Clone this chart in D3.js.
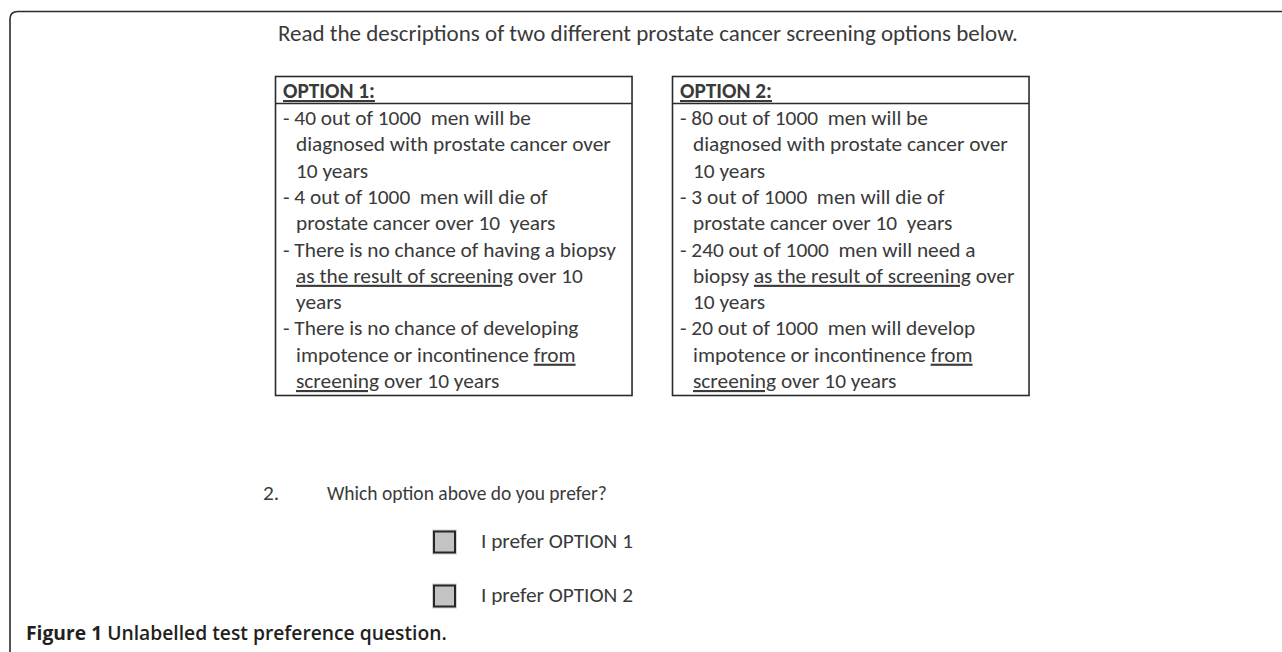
<!DOCTYPE html>
<html lang="en">
<head>
<meta charset="UTF-8">
<title>Unlabelled test preference question</title>
<script src="https://d3js.org/d3.v7.min.js"></script>
<style>
  body { margin: 0; background: #fff; }
  svg { display: block; }
  text { font-family: Carlito, Calibri, Lato, sans-serif; fill: #3a3a3a; white-space: pre; }
  .caption { font-family: "Open Sans", "Noto Sans", sans-serif; font-weight: 700; fill: #231f20; }
</style>
</head>
<body>
<div id="chart"></div>
<script>
// text content of the figure
var titleText = 'Read the descriptions of two different prostate cancer screening options below.';
var optionTitles = ['OPTION 1:', 'OPTION 2:'];
// _..._ marks underlined words; lines beginning with "- " are new bullets
var option1Lines = [
  '- 40 out of 1000  men will be',
  'diagnosed with prostate cancer over',
  '10 years',
  '- 4 out of 1000  men will die of',
  'prostate cancer over 10  years',
  '- There is no chance of having a biopsy',
  '_as the result of screening_ over 10',
  'years',
  '- There is no chance of developing',
  'impotence or incontinence _from_',
  '_screening_ over 10 years'
];
var option2Lines = [
  '- 80 out of 1000  men will be',
  'diagnosed with prostate cancer over',
  '10 years',
  '- 3 out of 1000  men will die of',
  'prostate cancer over 10  years',
  '- 240 out of 1000  men will need a',
  'biopsy _as the result of screening_ over',
  '10 years',
  '- 20 out of 1000  men will develop',
  'impotence or incontinence _from_',
  '_screening_ over 10 years'
];
var questionNumber = '2.';
var questionText = 'Which option above do you prefer?';
var choices = ['I prefer OPTION 1', 'I prefer OPTION 2'];
var captionLabel = 'Figure 1';
var captionText = ' Unlabelled test preference question.';

var width = 1282, height = 652;
var svg = d3.select('#chart').append('svg')
  .attr('width', width).attr('height', height);

/** outer frame: rounded top-left corner, open to the right and bottom */
svg.append('path')
  .attr('d', 'M10,652 V19 Q10,11.5 18,11.5 H1282')
  .attr('fill', 'none').attr('stroke', '#2b2b2b').attr('stroke-width', 1.6);

/** fit a text element to a target width by scaling its font size */
function fitFont(sel, targetWidth) {
  var base = 20;
  sel.style('font-size', base + 'px');
  var w = sel.node().getComputedTextLength();
  var size = base * targetWidth / w;
  sel.style('font-size', size + 'px');
  return size;
}

var title = svg.append('text')
  .attr('x', 278).attr('y', 41)
  .text(titleText);
fitFont(title, 740);

/** option boxes */
var optionData = [option1Lines, option2Lines];
var xBox = d3.scaleBand().domain([0, 1]).range([275, 1029]).paddingInner(0.103);
var yLine = d3.scaleLinear().domain([0, option1Lines.length - 1]).range([125, 388]);
var boxTop = 76.5, headerBottom = 103.5, boxBottom = 395.5;

// measure the body font size from one reference line
var probe = svg.append('text').text(option1Lines[1]);
var bodySize = fitFont(probe, 315);
probe.remove();

var box = svg.selectAll('g.option')
  .data(optionData)
  .enter().append('g')
  .attr('class', 'option')
  .attr('transform', function (d, i) { return 'translate(' + Math.round(xBox(i)) + ',0)'; });

box.append('rect')
  .attr('x', 0.5).attr('y', boxTop)
  .attr('width', xBox.bandwidth()).attr('height', boxBottom - boxTop)
  .attr('fill', 'none').attr('stroke', '#2b2b2b').attr('stroke-width', 1.6);

box.append('line')
  .attr('x1', 0.5).attr('x2', xBox.bandwidth() + 0.5)
  .attr('y1', headerBottom).attr('y2', headerBottom)
  .attr('stroke', '#2b2b2b').attr('stroke-width', 1.4);

box.append('text')
  .attr('x', 8).attr('y', 98)
  .style('font-size', bodySize + 'px')
  .style('font-weight', 700)
  .style('text-decoration', 'underline')
  .text(function (d, i) { return optionTitles[i]; });

box.each(function (lines) {
  var g = d3.select(this);
  lines.forEach(function (line, li) {
    var bullet = line.indexOf('- ') === 0;
    var t = g.append('text')
      .attr('x', bullet ? 8 : 21)
      .attr('y', yLine(li))
      .style('font-size', bodySize + 'px');
    line.split('_').forEach(function (part, pi) {
      if (!part) return;
      t.append('tspan')
        .style('text-decoration', pi % 2 === 1 ? 'underline' : null)
        .text(part);
    });
  });
});

/** question */
var qY = 500;
svg.append('text').attr('x', 263).attr('y', qY)
  .style('font-size', bodySize + 'px').text(questionNumber);
var q = svg.append('text').attr('x', 327).attr('y', qY).text(questionText);
fitFont(q, 280);

/** answer check boxes */
var yChoice = d3.scalePoint().domain(choices).range([542, 596]);
var choice = svg.selectAll('g.choice')
  .data(choices)
  .enter().append('g')
  .attr('class', 'choice')
  .attr('transform', function (d) { return 'translate(0,' + yChoice(d) + ')'; });

choice.append('rect')
  .attr('x', 432).attr('y', -12.5).attr('width', 25).attr('height', 25)
  .attr('fill', '#d4d4d4');
choice.append('rect')
  .attr('x', 434).attr('y', -10.5).attr('width', 21).attr('height', 21)
  .attr('fill', '#c3c3c3').attr('stroke', '#262626').attr('stroke-width', 2);

var choiceText = choice.append('text')
  .attr('x', 481).attr('y', 6)
  .text(function (d) { return d; });
var cs = fitFont(d3.select(choiceText.nodes()[0]), 152);
choiceText.style('font-size', cs + 'px');

/** caption */
var cap = svg.append('text')
  .attr('class', 'caption')
  .attr('x', 26).attr('y', 640);
cap.append('tspan').text(captionLabel);
cap.append('tspan').style('font-weight', 600).text(captionText);
fitFont(cap, 421);
</script>
</body>
</html>
